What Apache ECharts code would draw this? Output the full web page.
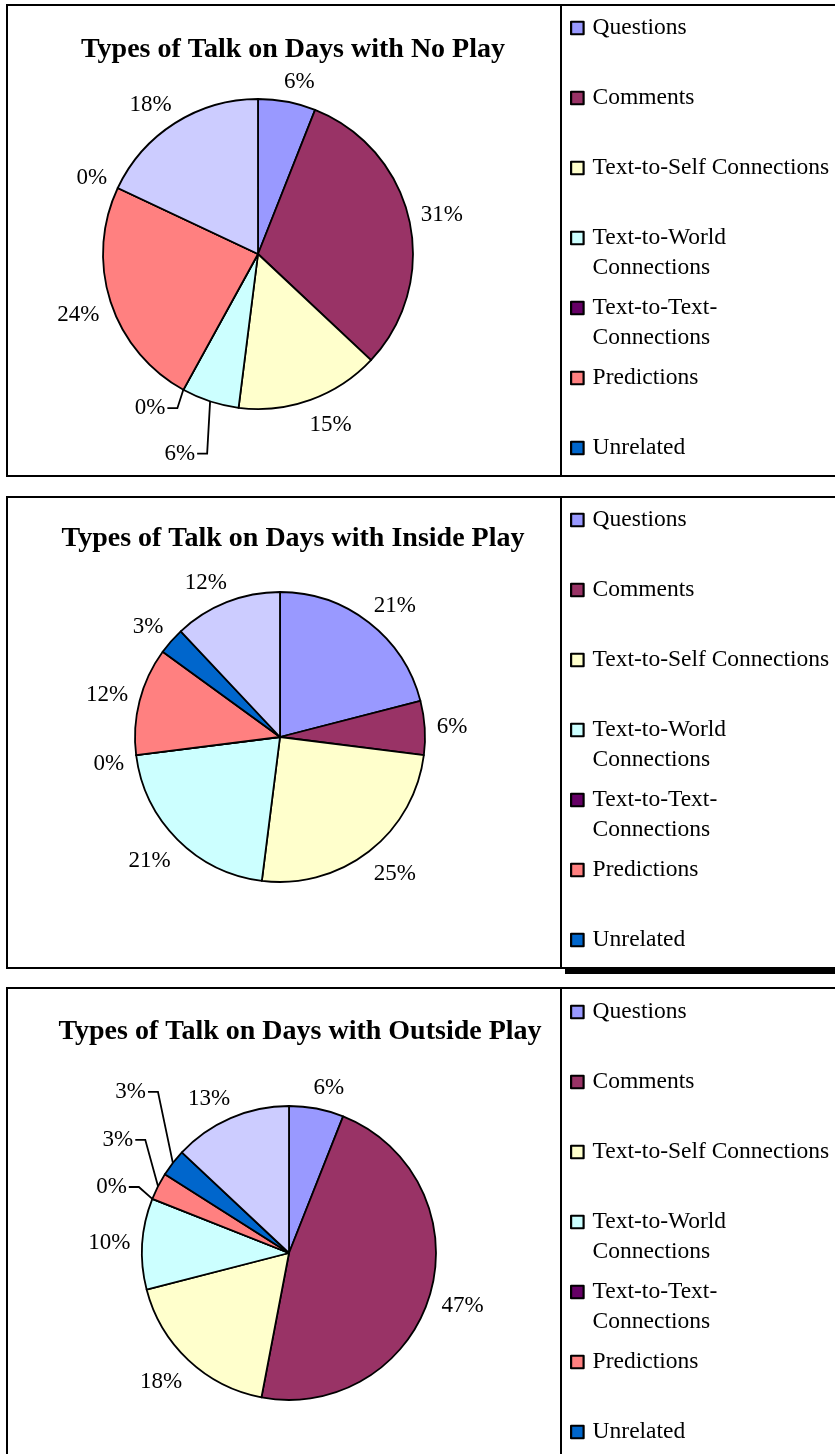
<!DOCTYPE html>
<html><head><meta charset="utf-8">
<script src="https://cdn.jsdelivr.net/npm/echarts@6/dist/echarts.min.js"></script>
<style>html,body{margin:0;padding:0;background:#fff;} #c{width:835px;height:1454px;}</style>
</head><body><div id="c"></div>
<script>
// ---- data ----
const categories = ['Questions', 'Comments', 'Text-to-Self Connections', 'Text-to-World Connections',
  'Text-to-Text-Connections', 'Predictions', 'Unrelated', 'Other'];
const legendNames = categories.slice(0, 7);
const titles = ['Types of Talk on Days with No Play', 'Types of Talk on Days with Inside Play',
  'Types of Talk on Days with Outside Play'];
const noPlay = [6, 31, 15, 6, 0, 24, 0, 18];
const insidePlay = [21, 6, 25, 21, 0, 12, 3, 12];
const outsidePlay = [6, 47, 18, 10, 0, 3, 3, 13];

// ---- styles / layout ----
const colors = ['#9999FF', '#993366', '#FFFFCC', '#CCFFFF', '#660066', '#FF8080', '#0066CC', '#CCCCFF'];
const SERIF = "'Liberation Serif', 'Times New Roman', serif";
const GAP = 10;      // gap used for moved (leader) labels
const LGAP = 12;     // gap used for ordinary labels
const LSHIFT = 3;    // small downward nudge of ordinary labels
const panels = [
  { values: noPlay, title: titles[0], top: 5, bottom: 476, titleX: 293, titleY: 48, center: [258, 254], r: 155, legendY: 27,
    leaders: { 3: [33, 3.4], 4: [5, 6.2] } },
  { values: insidePlay, title: titles[1], top: 497, bottom: 968, titleX: 293, titleY: 537, center: [280, 737], r: 145, legendY: 519,
    leaders: {} },
  { values: outsidePlay, title: titles[2], top: 988, bottom: 1480, titleX: 300, titleY: 1030, center: [289, 1253], r: 147, legendY: 1011,
    leaders: { 4: [14, -1.2], 5: [29, 6.5], 6: [50, 7.7] } }
];
const wrapNames = {
  'Text-to-World Connections': 'Text-to-World\nConnections',
  'Text-to-Text-Connections': 'Text-to-Text-\nConnections'
};

function sgnPow(v, e) { return (v < 0 ? -1 : 1) * Math.pow(Math.abs(v), e); }

function makeLabelLayout(p) {
  return function (prm) {
    const pts = prm.labelLinePoints;
    if (!pts || pts.length < 2) return {};
    let dx = pts[1][0] - pts[0][0], dy = pts[1][1] - pts[0][1];
    const len = Math.hypot(dx, dy) || 1; dx /= len; dy /= len;
    const w = prm.labelRect.width, h = prm.labelRect.height;
    const lead = p.leaders[prm.dataIndex];
    if (!lead) {
      // Excel-like outside-end placement
      const x = pts[0][0] + dx * LGAP + sgnPow(dx, 0.25) * w / 2;
      const y = pts[0][1] + dy * LGAP + sgnPow(dy, 0.5) * h / 2 + LSHIFT;
      return { x: x, y: y, align: 'center', verticalAlign: 'middle' };
    }
    const cx = pts[0][0] - dx * p.r, cy = pts[0][1] - dy * p.r;
    const a = lead[1] * Math.PI / 180;
    const nx = dx * Math.cos(a) - dy * Math.sin(a);
    const ny = dx * Math.sin(a) + dy * Math.cos(a);
    const d = p.r + GAP + Math.abs(nx) * w / 2 + Math.abs(ny) * h / 2 + lead[0];
    const x = cx + nx * d, y = cy + ny * d;
    const sgn = pts[0][0] > x ? 1 : -1;
    return {
      x: x, y: y, align: 'center', verticalAlign: 'middle',
      labelLinePoints: [
        [pts[0][0], pts[0][1]],
        [x + sgn * (w / 2 + 12), y],
        [x + sgn * (w / 2 + 2), y]
      ]
    };
  };
}

const chart = echarts.init(document.getElementById('c'), null, { renderer: 'canvas' });
const option = {
  animation: false,
  backgroundColor: '#fff',
  title: panels.map(p => ({
    text: p.title, left: p.titleX, top: p.titleY - 12, textAlign: 'center', padding: 0,
    textStyle: { fontFamily: SERIF, fontSize: 28, fontWeight: 'bold', color: '#000' }
  })),
  legend: panels.map(p => ({
    orient: 'vertical', left: 570, top: p.legendY - 44, height: 800, padding: 0, itemGap: -20,
    itemWidth: 12.5, itemHeight: 12.5, icon: 'rect', selectedMode: false, data: legendNames,
    itemStyle: { borderColor: '#000', borderWidth: 2.2 },
    formatter: n => wrapNames[n] || n,
    textStyle: { fontFamily: SERIF, fontSize: 23.5, color: '#000', lineHeight: 30, height: 60,
      padding: [30, 0, 0, 4], backgroundColor: 'rgba(0,0,0,0)', rich: { a: {} } }
  })),
  series: panels.map(p => ({
    type: 'pie', center: p.center, radius: p.r, startAngle: 90, clockwise: true,
    avoidLabelOverlap: false, silent: true,
    itemStyle: { borderColor: '#000', borderWidth: 1.8 },
    emphasis: { disabled: true },
    label: { show: true, position: 'outside', formatter: '{c}%', fontFamily: SERIF, fontSize: 23, color: '#000' },
    labelLine: { show: true, length: 10, length2: 0, lineStyle: { opacity: 0 } },
    labelLayout: makeLabelLayout(p),
    data: categories.map((name, i) => {
      const item = { name: name, value: p.values[i], itemStyle: { color: colors[i] } };
      if (p.leaders[i]) item.labelLine = { show: true, length: 10, length2: 8, lineStyle: { opacity: 1, color: '#000', width: 1.8 } };
      return item;
    })
  })),
  graphic: [
    ...panels.map(p => ({ type: 'rect', silent: true, shape: { x: 7, y: p.top, width: 900, height: p.bottom - p.top },
      style: { fill: 'none', stroke: '#000', lineWidth: 2 } })),
    ...panels.map(p => ({ type: 'line', silent: true, shape: { x1: 561, y1: p.top, x2: 561, y2: p.bottom },
      style: { stroke: '#000', lineWidth: 2 } })),
    { type: 'rect', silent: true, shape: { x: 565, y: 968, width: 280, height: 6 }, style: { fill: '#000' } }
  ]
};
chart.setOption(option);
</script>
</body></html>
